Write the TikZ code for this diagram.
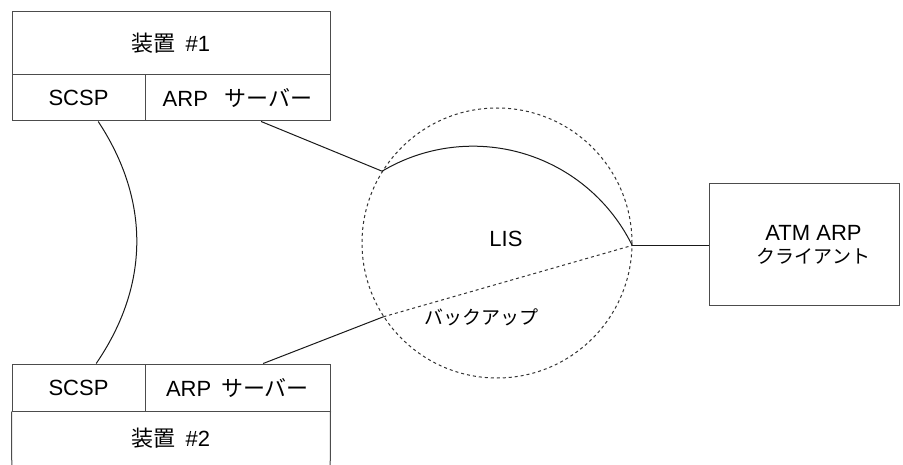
\documentclass[tikz,border=0pt]{standalone}
\usepackage{fontspec}
\setmainfont{Liberation Sans}
\newfontfamily\jp{Noto Sans CJK JP}
\usetikzlibrary{calc}
\begin{document}
\begin{tikzpicture}[x=1pt,y=-1pt,
  cell/.style={draw=black!70, line width=1pt, inner sep=0pt, font=\fontsize{22}{26}\selectfont},
  lbl/.style={inner sep=0pt, font=\fontsize{22}{26}\selectfont},
  small/.style={inner sep=0pt, font=\fontsize{19}{23}\selectfont},
  conn/.style={line width=1pt, black!90},
  dsh/.style={draw, line width=1pt, black!80, dash pattern=on 3pt off 3pt}]
\useasboundingbox[fill=white] (0,0) rectangle (903,465);
% device 1
\node[cell, minimum width=318pt, minimum height=63pt] (dev1) at (171,43.5) {{\jp 装置}\hspace{0.45em}\#1};
\node[cell, minimum width=133pt, minimum height=46pt] (scsp1) at (78.5,98) {SCSP};
\node[cell, minimum width=185pt, minimum height=46pt] (arp1) at (237.5,98) {ARP\hspace{0.75em}{\jp サーバー}};
% device 2
\node[cell, minimum width=133pt, minimum height=47pt] (scsp2) at (78.5,387.5) {SCSP};
\node[cell, minimum width=185pt, minimum height=47pt] (arp2) at (237.5,387.5) {ARP\hspace{0.45em}{\jp サーバー}};
\node[lbl, minimum width=318pt, minimum height=54pt] (dev2) at (171,438) {{\jp 装置}\hspace{0.45em}\#2};
\draw[draw=black!70, line width=1pt] (scsp2.south west) -- (dev2.south west |- 0,470);
\draw[draw=black!70, line width=1pt] (arp2.south east) -- (dev2.south east |- 0,470);
% LIS
\node[circle, dsh, minimum size=270pt, inner sep=0pt] (lis) at (497,243) {};
\node[lbl] (listxt) at (506,239) {LIS};
\node[small] (backup) at (481,317.5) {\jp バックアップ};
% ATM client
\node[cell, minimum width=190pt, minimum height=122pt] (atm) at (804,245) {};
\node[lbl, align=center] (atmtxt) at (813.5,245) {ATM ARP\\[-3pt]{\fontsize{19}{23}\selectfont\jp クライアント}};
% connectors
\draw[conn] ($(arp1.south west)!0.627!(arp1.south east)$) -- (lis.148.5);
\draw[conn] ($(arp2.north west)!0.638!(arp2.north east)$) -- (lis.213.2);
\draw[conn] ($(scsp1.south west)!0.647!(scsp1.south east)$) .. controls (150,200) and (150,285) .. ($(scsp2.north west)!0.632!(scsp2.north east)$);
\draw[conn] (lis.148.5) arc[start angle=-120.8, end angle=-26.2, radius=177.4];
\draw[dsh] (lis.213.2) -- (lis.-1.7);
\draw[conn] (lis.-1.7) -- (lis.-1.7 -| atm.west);
\end{tikzpicture}
\end{document}
